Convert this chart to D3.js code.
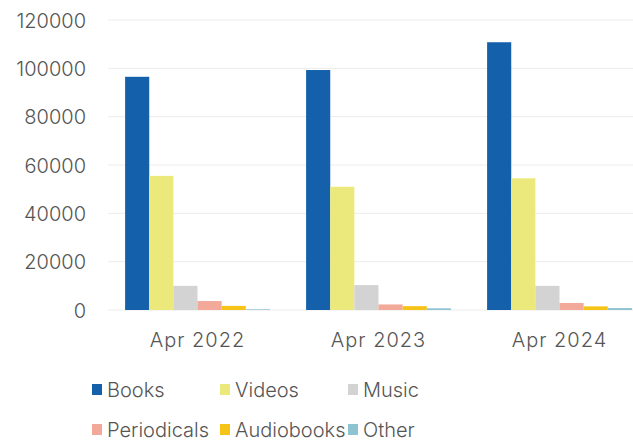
<!DOCTYPE html>
<html>
<head>
<meta charset="utf-8">
<script src="https://cdn.jsdelivr.net/npm/d3@7"></script>
<style>
  body { margin: 0; background: #fff; }
  svg text { font-family: Inter, "Open Sans", sans-serif; font-weight: 300; fill: #555; }
</style>
</head>
<body>
<svg id="chart" width="633" height="442"></svg>
<script>
"use strict";

const periods = ["Apr 2022", "Apr 2023", "Apr 2024"];
const formats = ["Books", "Videos", "Music", "Periodicals", "Audiobooks", "Other"];
const formatColors = ["#1560ab", "#ece97c", "#d3d3d3", "#f2a99a", "#f6c417", "#8ec3d2"];

const books       = [96500, 99300, 110800];
const videos      = [55500, 51000, 54500];
const music       = [10000, 10300, 10000];
const periodicals = [3700, 2300, 2900];
const audiobooks  = [1700, 1600, 1500];
const other       = [300, 700, 800];

const yTicks = [0, 20000, 40000, 60000, 80000, 100000, 120000];

const seriesValues = [books, videos, music, periodicals, audiobooks, other];

const svg = d3.select("#chart");

const x0 = d3.scaleBand()
    .domain(periods)
    .range([107, 650])
    .paddingInner(0.2)
    .paddingOuter(0.1);

// fixed inner layout: 6 bars of the same width with no gap
const x1 = d3.scaleBand()
    .domain(formats)
    .range([0, x0.bandwidth()]);

const y = d3.scaleLinear()
    .domain([0, 120000])
    .range([310, 20]);

// gridlines
svg.append("g")
    .selectAll("line")
    .data(yTicks)
    .join("line")
    .attr("x1", 108)
    .attr("x2", 633)
    .attr("y1", d => y(d))
    .attr("y2", d => y(d))
    .attr("stroke", "#ececec")
    .attr("stroke-width", 1);

// y axis labels
const yAxis = svg.append("g")
    .attr("transform", "translate(86,0)")
    .call(d3.axisLeft(y).tickValues(yTicks).tickSize(0).tickPadding(0).tickFormat(d3.format("d")));
yAxis.select(".domain").remove();
yAxis.selectAll("text")
    .attr("font-size", 20)
    .attr("dy", "0.36em");

// bars
const groups = svg.append("g")
    .selectAll("g")
    .data(periods)
    .join("g")
    .attr("transform", d => `translate(${x0(d)},0)`);

groups.selectAll("rect")
    .data((p, i) => formats.map((f, j) => ({ format: f, value: seriesValues[j][i], color: formatColors[j] })))
    .join("rect")
    .attr("x", d => x1(d.format))
    .attr("width", x1.bandwidth())
    .attr("y", d => y(d.value))
    .attr("height", d => y(0) - y(d.value))
    .attr("fill", d => d.color);

// x axis labels
const xAxis = svg.append("g")
    .attr("transform", "translate(0,347)")
    .call(d3.axisBottom(x0).tickSize(0).tickPadding(0));
xAxis.select(".domain").remove();
xAxis.selectAll("text")
    .attr("font-size", 20)
    .attr("dy", 0)
    .attr("letter-spacing", 1);

// legend
const legend = svg.append("g")
    .selectAll("g")
    .data(formats)
    .join("g")
    .attr("transform", (d, i) => `translate(${92 + (i % 3) * 128},${i < 3 ? 397 : 437})`);

legend.append("rect")
    .attr("y", -13)
    .attr("width", 10)
    .attr("height", 11)
    .attr("fill", (d, i) => formatColors[i]);

legend.append("text")
    .attr("x", 15)
    .attr("font-size", 20)
    .text(d => d);
</script>
</body>
</html>
